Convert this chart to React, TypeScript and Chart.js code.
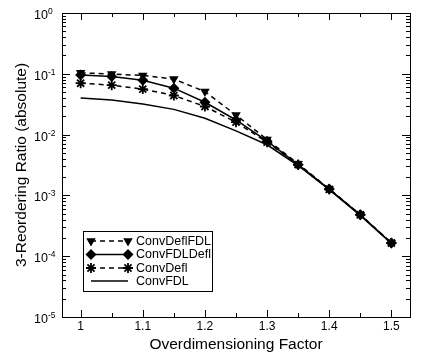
import React, { useEffect, useRef } from 'react';
import { Chart, registerables } from 'chart.js';

Chart.register(...registerables);

// ---- Data ----
const factors = [1, 1.05, 1.1, 1.15, 1.2, 1.25, 1.3, 1.35, 1.4, 1.45, 1.5];
const convDeflFDL = [0.104, 0.099, 0.094, 0.082, 0.051, 0.021, 0.0083, 0.0033, 0.00128, 0.00048, 0.000165];
const convFDLDefl = [0.096, 0.09, 0.078, 0.058, 0.034, 0.0174, 0.0078, 0.0032, 0.00127, 0.00048, 0.000165];
const convDefl = [0.07, 0.065, 0.056, 0.044, 0.029, 0.016, 0.0075, 0.0032, 0.00126, 0.00048, 0.000165];
const convFDL = [0.04, 0.037, 0.032, 0.026, 0.0186, 0.0115, 0.0068, 0.0031, 0.00124, 0.00047, 0.000162];
const seriesNames = ['ConvDeflFDL', 'ConvFDLDefl', 'ConvDefl', 'ConvFDL'];
const xMajorTicks = [1, 1.1, 1.2, 1.3, 1.4, 1.5];
const xTickLabels = ['1', '1.1', '1.2', '1.3', '1.4', '1.5'];
const xMinorTicks = [1.05, 1.15, 1.25, 1.35, 1.45];
const yExponents = [0, -1, -2, -3, -4, -5];
const xTitle = 'Overdimensioning Factor';
const yTitle = '3-Reordering Ratio (absolute)';

const FONT = 'Liberation Sans, Arial, Helvetica, sans-serif';

type MarkerKind = 'tri' | 'diamond' | 'star' | 'none';
const markerKinds: MarkerKind[] = ['tri', 'diamond', 'star', 'none'];
const dashes: number[][] = [[5, 4], [], [5, 4], []];

function drawMarker(ctx: CanvasRenderingContext2D, kind: MarkerKind, x: number, y: number) {
  ctx.save();
  ctx.fillStyle = '#000';
  ctx.strokeStyle = '#000';
  ctx.setLineDash([]);
  if (kind === 'tri') {
    const r = 5.5;
    ctx.beginPath();
    ctx.moveTo(x, y + r);
    ctx.lineTo(x - r * 0.866, y - r * 0.5);
    ctx.lineTo(x + r * 0.866, y - r * 0.5);
    ctx.closePath();
    ctx.fill();
  } else if (kind === 'diamond') {
    const r = 5.5;
    ctx.beginPath();
    ctx.moveTo(x, y - r);
    ctx.lineTo(x + r, y);
    ctx.lineTo(x, y + r);
    ctx.lineTo(x - r, y);
    ctx.closePath();
    ctx.fill();
  } else if (kind === 'star') {
    const r = 5;
    ctx.lineWidth = 1.8;
    ctx.beginPath();
    for (let i = 0; i < 4; i++) {
      const a = (i * Math.PI) / 4;
      ctx.moveTo(x - Math.cos(a) * r, y - Math.sin(a) * r);
      ctx.lineTo(x + Math.cos(a) * r, y + Math.sin(a) * r);
    }
    ctx.stroke();
  }
  ctx.restore();
}

const framePlugin = {
  id: 'framePlugin',
  afterDraw(chart: any) {
    const ctx: CanvasRenderingContext2D = chart.ctx;
    const { left, right, top, bottom } = chart.chartArea;
    const xs = chart.scales.x;
    const ys = chart.scales.y;
    ctx.save();
    ctx.strokeStyle = '#000';
    ctx.fillStyle = '#000';
    ctx.lineWidth = 1;
    ctx.setLineDash([]);
    // frame
    ctx.strokeRect(Math.round(left) + 0.5, Math.round(top) + 0.5, Math.round(right - left), Math.round(bottom - top));

    // x ticks
    ctx.beginPath();
    xMajorTicks.forEach((v) => {
      const px = Math.round(xs.getPixelForValue(v)) + 0.5;
      ctx.moveTo(px, bottom); ctx.lineTo(px, bottom - 7);
      ctx.moveTo(px, top); ctx.lineTo(px, top + 7);
    });
    xMinorTicks.forEach((v) => {
      const px = Math.round(xs.getPixelForValue(v)) + 0.5;
      ctx.moveTo(px, bottom); ctx.lineTo(px, bottom - 4);
      ctx.moveTo(px, top); ctx.lineTo(px, top + 4);
    });
    // y ticks
    yExponents.forEach((e) => {
      const py = Math.round(ys.getPixelForValue(Math.pow(10, e))) + 0.5;
      ctx.moveTo(left, py); ctx.lineTo(left + 8, py);
      ctx.moveTo(right, py); ctx.lineTo(right - 8, py);
      if (e < 0) {
        for (let m = 2; m <= 9; m++) {
          const pm = Math.round(ys.getPixelForValue(m * Math.pow(10, e))) + 0.5;
          ctx.moveTo(left, pm); ctx.lineTo(left + 4, pm);
          ctx.moveTo(right, pm); ctx.lineTo(right - 4, pm);
        }
      }
    });
    ctx.stroke();

    // x labels
    ctx.font = `12px ${FONT}`;
    ctx.textAlign = 'center';
    ctx.textBaseline = 'alphabetic';
    xMajorTicks.forEach((v, i) => {
      ctx.fillText(xTickLabels[i], xs.getPixelForValue(v), bottom + 13);
    });
    // y labels
    yExponents.forEach((e) => {
      const py = ys.getPixelForValue(Math.pow(10, e));
      ctx.textAlign = 'left';
      ctx.font = `12.5px ${FONT}`;
      ctx.fillText('10', 34, py + 6);
      ctx.font = `8.5px ${FONT}`;
      ctx.fillText(String(e), 48, py + 1);
    });
    // titles
    ctx.font = `15.5px ${FONT}`;
    ctx.textAlign = 'center';
    ctx.fillText(xTitle, (left + right) / 2, 348.5);
    ctx.save();
    ctx.translate(25.5, (top + bottom) / 2);
    ctx.rotate(-Math.PI / 2);
    ctx.fillText(yTitle, 0, 0);
    ctx.restore();

    // legend
    const lx = 83, ly = 231, lw = 129, lh = 60;
    ctx.fillStyle = '#fff';
    ctx.fillRect(lx, ly, lw, lh);
    ctx.strokeStyle = '#000';
    ctx.lineWidth = 1;
    ctx.strokeRect(lx + 0.5, ly + 0.5, lw, lh);
    const rowY = [241, 254.5, 268, 281];
    seriesNames.forEach((name, i) => {
      const y = rowY[i];
      ctx.save();
      ctx.strokeStyle = '#000';
      ctx.lineWidth = 1.5;
      ctx.setLineDash(dashes[i]);
      ctx.beginPath();
      ctx.moveTo(91, y); ctx.lineTo(128, y);
      ctx.stroke();
      ctx.restore();
      drawMarker(ctx, markerKinds[i], 91, y);
      drawMarker(ctx, markerKinds[i], 128, y);
      ctx.fillStyle = '#000';
      ctx.font = `12.5px ${FONT}`;
      ctx.textAlign = 'left';
      ctx.textBaseline = 'middle';
      ctx.fillText(name, 136, y + 0.5);
    });
    ctx.restore();
  },
};

export default function App() {
  const canvasRef = useRef<HTMLCanvasElement | null>(null);

  useEffect(() => {
    const canvas = canvasRef.current;
    if (!canvas) return;
    const allSeries = [convDeflFDL, convFDLDefl, convDefl, convFDL];
    const pointStyles: any[] = ['triangle', 'rectRot', 'star', false];
    const radii = [5.5, 5.5, 5, 0];
    const datasets = allSeries.map((vals, i) => ({
      label: seriesNames[i],
      data: factors.map((f, j) => ({ x: f, y: vals[j] })),
      borderColor: '#000',
      backgroundColor: '#000',
      borderWidth: 1.5,
      borderDash: dashes[i],
      pointStyle: pointStyles[i],
      pointRotation: i === 0 ? 180 : 0,
      pointRadius: radii[i],
      pointBorderWidth: i === 2 ? 1.8 : 0,
      pointBackgroundColor: '#000',
      pointBorderColor: '#000',
      fill: false,
      tension: 0,
    }));
    const chart = new Chart(canvas, {
      type: 'line',
      data: { datasets },
      options: {
        animation: false,
        responsive: false,
        maintainAspectRatio: false,
        layout: { padding: { left: 62, top: 13, right: 12, bottom: 41 } },
        plugins: { legend: { display: false }, tooltip: { enabled: false }, title: { display: false } },
        scales: {
          x: { type: 'linear', min: 0.97, max: 1.53, display: false },
          y: { type: 'logarithmic', min: 1e-5, max: 1, display: false },
        },
      },
      plugins: [framePlugin],
    });
    return () => chart.destroy();
  }, []);

  return (
    <div style={{ position: 'fixed', left: 0, top: 0, width: 422, height: 358, background: '#fff' }}>
      <canvas ref={canvasRef} width={422} height={358} style={{ width: 422, height: 358, display: 'block' }} />
    </div>
  );
}
